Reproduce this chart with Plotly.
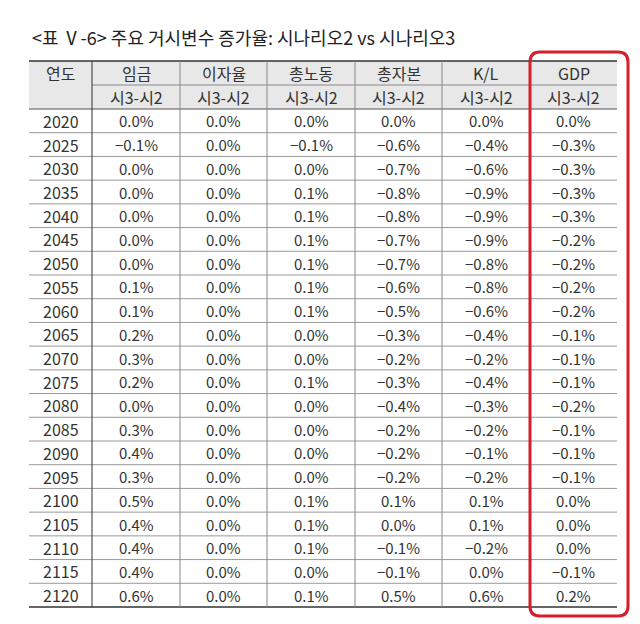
import plotly.graph_objects as go

title = "<표 Ⅴ-6> 주요 거시변수 증가율: 시나리오2 vs 시나리오3"
headers = ["연도", "임금", "이자율", "총노동", "총자본", "K/L", "GDP"]
subheader = "시3-시2"
years = [2020, 2025, 2030, 2035, 2040, 2045, 2050, 2055, 2060, 2065, 2070,
         2075, 2080, 2085, 2090, 2095, 2100, 2105, 2110, 2115, 2120]
wage = ["0.0%", "-0.1%", "0.0%", "0.0%", "0.0%", "0.0%", "0.0%", "0.1%", "0.1%", "0.2%", "0.3%",
        "0.2%", "0.0%", "0.3%", "0.4%", "0.3%", "0.5%", "0.4%", "0.4%", "0.4%", "0.6%"]
interest = ["0.0%"] * 21
labor = ["0.0%", "-0.1%", "0.0%", "0.1%", "0.1%", "0.1%", "0.1%", "0.1%", "0.1%", "0.0%", "0.0%",
         "0.1%", "0.0%", "0.0%", "0.0%", "0.0%", "0.1%", "0.1%", "0.1%", "0.0%", "0.1%"]
capital = ["0.0%", "-0.6%", "-0.7%", "-0.8%", "-0.8%", "-0.7%", "-0.7%", "-0.6%", "-0.5%", "-0.3%", "-0.2%",
           "-0.3%", "-0.4%", "-0.2%", "-0.2%", "-0.2%", "0.1%", "0.0%", "-0.1%", "-0.1%", "0.5%"]
kl = ["0.0%", "-0.4%", "-0.6%", "-0.9%", "-0.9%", "-0.9%", "-0.8%", "-0.8%", "-0.6%", "-0.4%", "-0.2%",
      "-0.4%", "-0.3%", "-0.2%", "-0.1%", "-0.2%", "0.1%", "0.1%", "-0.2%", "0.0%", "0.6%"]
gdp = ["0.0%", "-0.3%", "-0.3%", "-0.3%", "-0.3%", "-0.2%", "-0.2%", "-0.2%", "-0.2%", "-0.1%", "-0.1%",
       "-0.1%", "-0.2%", "-0.1%", "-0.1%", "-0.1%", "0.0%", "0.0%", "0.0%", "-0.1%", "0.2%"]

cols = [[str(y) for y in years], wage, interest, labor, capital, kl, gdp]
xb = [29, 92, 180, 267, 355, 442, 530, 617]
h1_top, h2_top, data_top, bottom = 61, 85, 109, 607
n = len(years)
rh = (bottom - data_top) / n
FONT = "Noto Sans CJK KR"
fig = go.Figure()
shapes, ann = [], []
shapes.append(dict(type="rect", x0=xb[0], x1=xb[-1], y0=h1_top, y1=data_top,
                   fillcolor="#e8e8e8", line_width=0, layer="below"))
shapes.append(dict(type="line", x0=xb[0], x1=xb[-1], y0=h1_top, y1=h1_top, line=dict(color="#333", width=1.5)))
shapes.append(dict(type="line", x0=xb[1], x1=xb[-1], y0=h2_top, y1=h2_top, line=dict(color="#888", width=1)))
for i in range(n):
    y = data_top + i * rh
    shapes.append(dict(type="line", x0=xb[0], x1=xb[-1], y0=y, y1=y,
                       line=dict(color="#555" if i == 0 else "#999", width=1)))
shapes.append(dict(type="line", x0=xb[0], x1=xb[-1], y0=bottom, y1=bottom, line=dict(color="#333", width=1.5)))
for j, x in enumerate(xb[1:-1]):
    shapes.append(dict(type="line", x0=x, x1=x, y0=h1_top, y1=bottom,
                       line=dict(color="#333" if j == 0 else "#888", width=1)))
shapes.append(dict(type="path", path="M 540 52 L 618 52 Q 628 52 628 62 L 628 606 Q 628 616 618 616 L 540 616 Q 530 616 530 606 L 530 62 Q 530 52 540 52 Z",
                   line=dict(color="#d3202a", width=3)))
ann.append(dict(x=30, y=37, text=title, showarrow=False, xanchor="left", yanchor="middle",
                font=dict(size=18, color="#222", family=FONT)))
for j, h in enumerate(headers):
    cx = (xb[j] + xb[j + 1]) / 2
    ann.append(dict(x=cx, y=(h1_top + h2_top) / 2, text=h, showarrow=False,
                    font=dict(size=16, color="#333", family=FONT)))
    if j > 0:
        ann.append(dict(x=cx, y=(h2_top + data_top) / 2, text=subheader, showarrow=False,
                        font=dict(size=16, color="#333", family=FONT)))
    for i, v in enumerate(cols[j]):
        ann.append(dict(x=cx, y=data_top + (i + 0.5) * rh, text=v.replace("-", "−"), showarrow=False,
                        font=dict(size=15 if j else 16, color="#333", family=FONT)))
fig.update_layout(width=640, height=624, margin=dict(l=0, r=0, t=0, b=0),
                  plot_bgcolor="white", paper_bgcolor="white", shapes=shapes, annotations=ann,
                  xaxis=dict(range=[8, 648], visible=False, fixedrange=True),
                  yaxis=dict(range=[632, 8], visible=False, fixedrange=True))
fig.write_html("out.html")
